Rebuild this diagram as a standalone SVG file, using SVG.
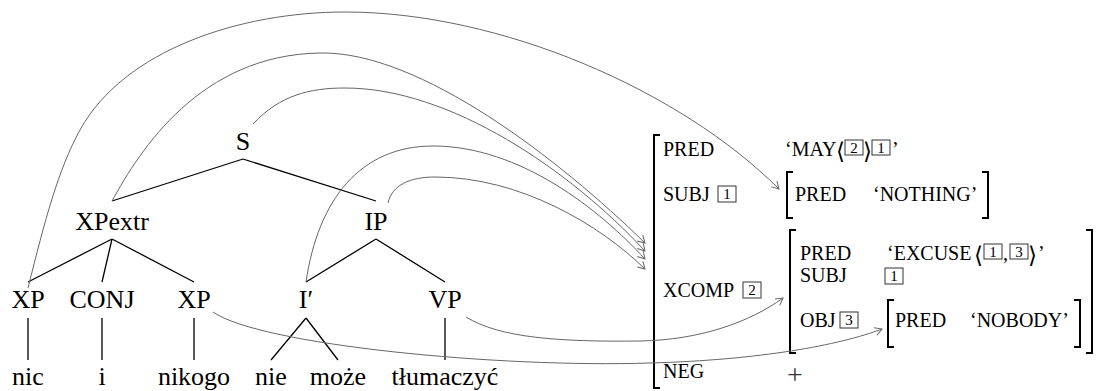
<svg xmlns="http://www.w3.org/2000/svg" width="1099" height="391" viewBox="0 0 1099 391">
<style>
.t{font-family:'Liberation Serif','DejaVu Serif',serif;font-size:26px;fill:#000;text-anchor:middle}
.a{font-family:'Liberation Serif','DejaVu Serif',serif;font-size:20px;fill:#000}
.ang{font-family:'DejaVu Serif','Liberation Serif',serif;font-size:23px;fill:#000}
.n{font-family:'Liberation Serif','DejaVu Serif',serif;font-size:15px;fill:#000;text-anchor:middle}
.pl{font-family:'Liberation Serif','DejaVu Serif',serif;font-size:28px;fill:#333;text-anchor:middle}
.box{fill:none;stroke:#333;stroke-width:1}
.tl{stroke:#000;stroke-width:1.3;fill:none}
.br{stroke:#000;stroke-width:2;fill:none}
.arc{stroke:#666;stroke-width:1;fill:none}
</style>
<defs>
<marker id="ah" markerWidth="12" markerHeight="12" viewBox="-9 -6 12 12" refX="0" refY="0" orient="auto" markerUnits="userSpaceOnUse">
<path d="M-7,-4 L0,0 L-7,4" fill="none" stroke="#666" stroke-width="1"/>
</marker>
</defs>

<g id="tree-lines">
<path class="tl" d="M243,159 L112,201 M243,159 L376,201"/>
<path class="tl" d="M112,239 L28,282 M112,239 L102,282 M112,239 L194,282"/>
<path class="tl" d="M376,239 L306,282 M376,239 L445,282"/>
<path class="tl" d="M28,318 V360 M102,318 V360 M194,318 V360 M445,318 V360"/>
<path class="tl" d="M306,318 L271,360 M306,318 L338,360"/>
</g>

<g id="node-S"><text class="t" x="243" y="150">S</text></g>
<g id="node-XPextr"><text class="t" x="112" y="230">XPextr</text></g>
<g id="node-IP"><text class="t" x="376" y="230">IP</text></g>
<g id="node-XP1"><text class="t" x="28" y="308">XP</text></g>
<g id="node-CONJ"><text class="t" x="102" y="308">CONJ</text></g>
<g id="node-XP2"><text class="t" x="194" y="308">XP</text></g>
<g id="node-Ibar"><text class="t" x="306" y="308">I′</text></g>
<g id="node-VP"><text class="t" x="445" y="308">VP</text></g>
<g id="word-nic"><text class="t" x="28" y="385">nic</text></g>
<g id="word-i"><text class="t" x="102" y="385">i</text></g>
<g id="word-nikogo"><text class="t" x="194" y="385">nikogo</text></g>
<g id="word-nie"><text class="t" x="271" y="385">nie</text></g>
<g id="word-moze"><text class="t" x="338" y="385">może</text></g>
<g id="word-tlumaczyc"><text class="t" x="445" y="385">tłumaczyć</text></g>

<g id="fstructure">
<path class="br" d="M660,135 H654 V388 H660"/>
<text class="a" x="663" y="156">PRED</text>
<text class="a" x="785" y="156">‘MAY</text>
<text class="ang" x="836" y="159">⟨</text>
<rect class="box" x="845" y="140" width="18" height="15"/><text class="n" x="854" y="153">2</text>
<text class="ang" x="863" y="159">⟩</text>
<rect class="box" x="872" y="140" width="18" height="15"/><text class="n" x="881" y="153">1</text>
<text class="a" x="892" y="156">’</text>

<text class="a" x="663" y="201">SUBJ</text>
<rect class="box" x="718" y="186" width="18" height="16"/><text class="n" x="727" y="199">1</text>
<g id="fs-nothing">
<path class="br" d="M793,172 H787 V218 H793"/>
<text class="a" x="795" y="201">PRED</text>
<text class="a" x="873" y="201">‘NOTHING’</text>
<path class="br" d="M982,172 H988 V218 H982"/>
</g>

<text class="a" x="663" y="297">XCOMP</text>
<rect class="box" x="743" y="282" width="18" height="16"/><text class="n" x="752" y="295">2</text>
<g id="fs-xcomp">
<path class="br" d="M796,230 H790 V353 H796"/>
<path class="br" d="M1086,230 H1092 V353 H1086"/>
<text class="a" x="800" y="260">PRED</text>
<text class="a" x="887" y="260">‘EXCUSE</text>
<text class="ang" x="974" y="263">⟨</text>
<rect class="box" x="984" y="244" width="18" height="15"/><text class="n" x="993" y="257">1</text>
<text class="a" x="1003" y="260">,</text>
<rect class="box" x="1010" y="244" width="18" height="15"/><text class="n" x="1019" y="257">3</text>
<text class="ang" x="1028" y="263">⟩</text>
<text class="a" x="1038" y="260">’</text>
<text class="a" x="800" y="282">SUBJ</text>
<rect class="box" x="885" y="268" width="18" height="16"/><text class="n" x="894" y="281">1</text>
<text class="a" x="800" y="327">OBJ</text>
<rect class="box" x="840" y="312" width="18" height="16"/><text class="n" x="849" y="325">3</text>
<g id="fs-nobody">
<path class="br" d="M894,300 H888 V347 H894"/>
<text class="a" x="895" y="327">PRED</text>
<text class="a" x="970" y="327">‘NOBODY’</text>
<path class="br" d="M1074,300 H1080 V347 H1074"/>
</g>
</g>
<text class="a" x="663" y="378">NEG</text>
<text class="pl" x="795" y="384">+</text>
</g>

<g id="connectors">
<path class="arc" marker-end="url(#ah)" d="M28,288 C45,220 58,170 80,130 C124,50 240,12 345,12 C500,12 680,90 779,189"/>
<path class="arc" marker-end="url(#ah)" d="M112,201 C140,150 200,55 320,53 C420,51 560,160 645,243"/>
<path class="arc" marker-end="url(#ah)" d="M253,124 C280,95 310,88 345,88 C450,88 570,170 645,251"/>
<path class="arc" marker-end="url(#ah)" d="M306,282 C318,200 360,146 433,146 C520,146 600,210 645,259"/>
<path class="arc" marker-end="url(#ah)" d="M388,203 C392,185 410,177 435,177 C520,177 600,225 645,269"/>
<path class="arc" marker-end="url(#ah)" d="M213,312 C260,345 500,368 650,363 C760,360 840,345 882,329"/>
<path class="arc" marker-end="url(#ah)" d="M466,317 C500,338 560,342 640,341 C700,340 750,322 783,298"/>
</g>
</svg>
